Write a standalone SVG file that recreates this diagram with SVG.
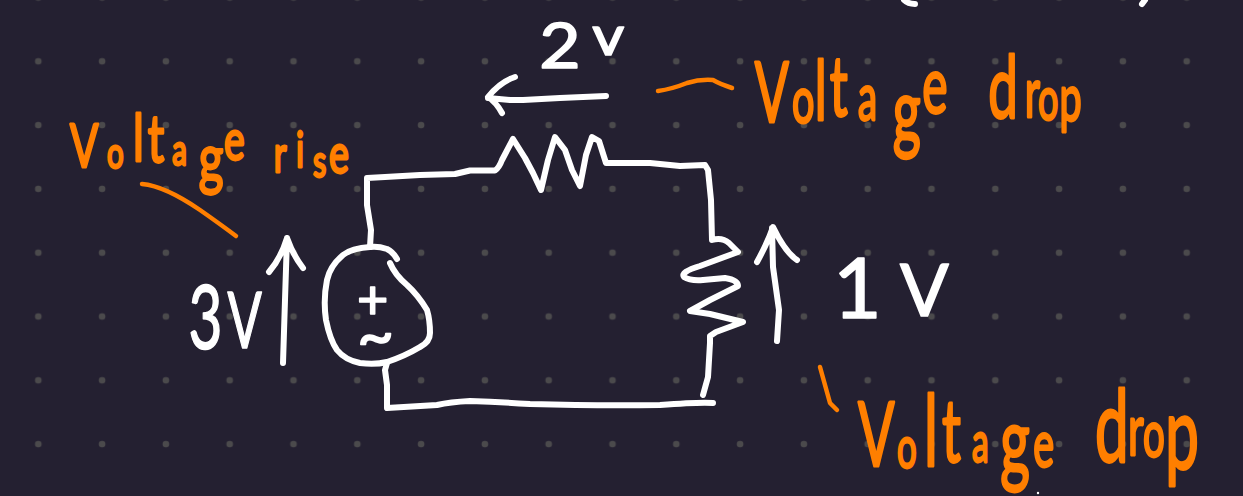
<svg xmlns="http://www.w3.org/2000/svg" width="1243" height="496" viewBox="0 0 1243 496">
<style>
.w{fill:none;stroke:#fff;stroke-width:6;stroke-linecap:round;stroke-linejoin:round}
.o{fill:none;stroke:#ff7f00;stroke-width:4.500;stroke-linecap:round;stroke-linejoin:round}
text{font-family:"Lato","Liberation Sans",sans-serif}
.tw{fill:#fff;stroke:#fff;stroke-width:1.600;stroke-linejoin:round}
.to{fill:#ff7f00;stroke:#ff7f00;stroke-width:2.800;stroke-linejoin:round}
</style>
<defs>
<pattern id="dots" patternUnits="userSpaceOnUse" x="6.4" y="29.4" width="63.8" height="63.8"><circle cx="31.9" cy="31.9" r="3.3" fill="#4b4a4c"/></pattern>
</defs>
<rect width="1243" height="496" fill="#242031"/>
<rect width="1243" height="496" fill="url(#dots)"/>
<g id="connectors">
<path class="w" d="M370 247L371 230L367 205L367 178L385 177L420 175L455 174L470 170.500L495 170.500Q499 168 502 160L513 139L525 158L533 173L541 190L548 160L555 137L565 150L572 170L580 186L586 155L592 137L599 141L606 163L650 163L680 166L705 165L708 170L711 200L712 240Q722 237 729 243L738 252L700 266Q680 272 684 277Q690 281 703 280L725 278Q738 280 738 286L710 300L690 311L710 314L743 322L716 332L710 336L710 343L708 377L703 395"/>
<path class="w" d="M713 403Q700 402 660 405Q600 406 530 404Q500 402 470 401Q450 402 437 405L387 408L387 385L385 370L387 363"/>
<path class="w" d="M283 363L285 300L287 238M269 272Q281 258 287 238Q293 255 303 268"/>
<path class="w" d="M777 341L779 310L773 267L772 228M757 262Q768 242 773 227Q785 252 797 260"/>
<path class="w" d="M606 96L560 98L523 100L510 100L488 98M515 77Q500 82 488 97Q496 102 502 113"/>
<path class="w" d="M904 0Q908 4 915 4M1145 0L1142 4"/>
<path class="o" d="M142 184Q165 186 200 210Q220 224 236 236"/>
<path class="o" d="M658 91Q672 89 687 83Q700 79 713 80Q720 84 732 88"/>
<path class="o" d="M820 367L830 403L837 410"/>
<circle cx="1038" cy="493" r="1.200" fill="#fff"/>
</g>
<g id="source">
<path class="w" d="M397 259Q393 252 387 249Q378 246 370 247Q352 248 343 255Q330 266 327 280Q323 300 326 320Q330 340 337 350Q345 360 360 363Q375 365 387 362Q405 356 420 347Q430 342 430 333Q430 320 427 310Q418 295 407 285Q395 275 390 263"/>
<text class="tw"><tspan x="357" y="319" font-size="54">+</tspan><tspan x="357" y="358" font-size="64">~</tspan></text>
</g>
<g id="label-2v"><text class="tw" transform="scale(1.15 1)"><tspan x="469" y="68" font-size="62">2</tspan><tspan x="515" y="55" font-size="54">v</tspan></text></g>
<g id="label-3v"><text class="tw" transform="scale(.65 1)"><tspan x="290" y="349" font-size="90">3</tspan><tspan x="350" y="348" font-size="78">V</tspan></text></g>
<g id="label-1v"><text class="tw" x="833" y="318" font-size="84">1<tspan x="900" y="316" font-size="72">V</tspan></text></g>
<g id="label-rise"><text class="to" transform="scale(.7 1)"><tspan x="100" y="167" font-size="60">V</tspan><tspan x="153" y="168" font-size="42">o</tspan><tspan x="190" y="161" font-size="66">l</tspan><tspan x="211" y="162" font-size="66">t</tspan><tspan x="246" y="165" font-size="42">a</tspan><tspan x="284" y="182" font-size="68">g</tspan><tspan x="320" y="160" font-size="56">e</tspan><tspan> </tspan><tspan x="391" y="172" font-size="50">r</tspan><tspan x="423" y="167" font-size="48">i</tspan><tspan x="447" y="177" font-size="44">s</tspan><tspan x="470" y="173" font-size="54">e</tspan></text></g>
<g id="label-drop-top"><text class="to" transform="scale(.6 1)"><tspan x="1258" y="122" font-size="84">V</tspan><tspan x="1320" y="123" font-size="66">o</tspan><tspan x="1358" y="120" font-size="84">l</tspan><tspan x="1383" y="116" font-size="84">t</tspan><tspan x="1430" y="120" font-size="64">a</tspan><tspan x="1488" y="142" font-size="90">g</tspan><tspan x="1537" y="113" font-size="80">e</tspan><tspan> </tspan><tspan x="1647" y="118" font-size="88">d</tspan><tspan x="1708" y="117" font-size="70">r</tspan><tspan x="1730" y="120" font-size="60">o</tspan><tspan x="1766" y="121" font-size="66">p</tspan></text></g>
<g id="label-drop-bottom"><text class="to" transform="scale(.6 1)"><tspan x="1430" y="466" font-size="90">V</tspan><tspan x="1495" y="468" font-size="58">o</tspan><tspan x="1540" y="466" font-size="98">l</tspan><tspan x="1570" y="462" font-size="88">t</tspan><tspan x="1620" y="462" font-size="56">a</tspan><tspan x="1667" y="475" font-size="95">g</tspan><tspan x="1722" y="467" font-size="66">e</tspan><tspan> </tspan><tspan x="1825" y="462" font-size="100">d</tspan><tspan x="1880" y="455" font-size="72">r</tspan><tspan x="1905" y="457" font-size="64">o</tspan><tspan x="1942" y="469" font-size="100">p</tspan></text></g>
</svg>
